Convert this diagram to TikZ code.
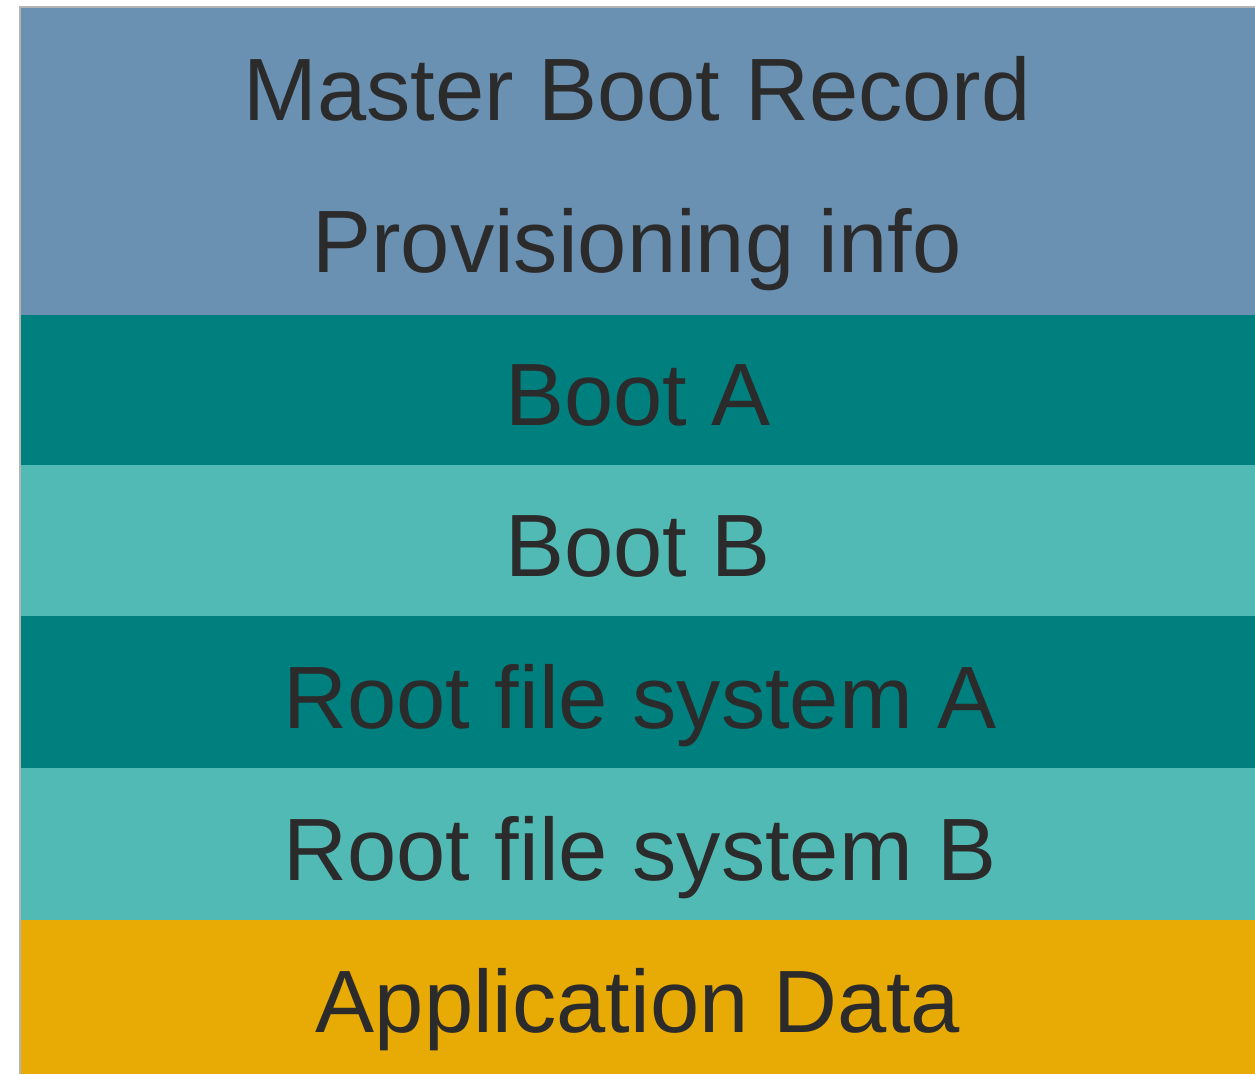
\documentclass[tikz,border=0pt]{standalone}
\usepackage{fontspec}
\setmainfont{Liberation Sans}
\definecolor{mbrblue}{HTML}{6A90B2}
\definecolor{darkteal}{HTML}{007F7F}
\definecolor{lightteal}{HTML}{52BAB5}
\definecolor{gold}{HTML}{E8AA04}
\definecolor{txt}{HTML}{2B2B2B}
\definecolor{edgegray}{HTML}{B4B4B4}
\begin{document}
\begin{tikzpicture}[x=1pt,y=-1pt,
  band/.style={draw=none},
  lbl/.style={anchor=base,text=txt,font=\fontsize{88.5}{100}\selectfont,inner sep=0pt}]
\useasboundingbox (0,0) rectangle (1255,1074);
\fill[white] (0,0) rectangle (1255,1074);
\fill[mbrblue] (20,7) rectangle (1255,315);
\fill[darkteal] (20,315) rectangle (1255,465);
\fill[lightteal] (20,465) rectangle (1255,616);
\fill[darkteal] (20,616) rectangle (1255,768);
\fill[lightteal] (20,768) rectangle (1255,920);
\fill[gold] (20,920) rectangle (1255,1074);
\draw[edgegray,line width=1.5pt] (20,1074) -- (20,7) -- (1255,7);
\node[lbl] (mbr) at (637,120) {Master Boot Record};
\node[lbl] (prov) at (637,272) {Provisioning info};
\node[lbl] (boota) at (638,425) {Boot A};
\node[lbl] (bootb) at (638,576) {Boot B};
\node[lbl] (rootA) at (640,728) {Root file system A};
\node[lbl] (rootB) at (640,880) {Root file system B};
\node[lbl] (app) at (638,1032) {Application Data};
\end{tikzpicture}
\end{document}
